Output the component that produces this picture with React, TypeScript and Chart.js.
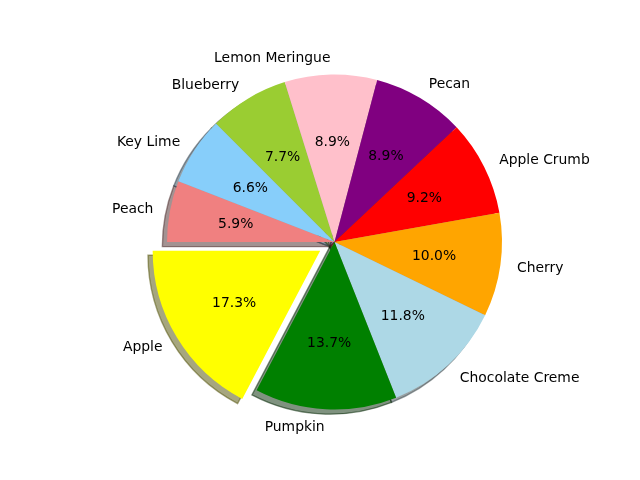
import React, { useEffect, useRef } from 'react';
import { Chart, ArcElement, registerables } from 'chart.js';

Chart.register(...registerables);

const labels = ['Peach', 'Key Lime', 'Blueberry', 'Lemon Meringue', 'Pecan', 'Apple Crumb', 'Cherry', 'Chocolate Creme', 'Pumpkin', 'Apple'];
const values = [5.9, 6.6, 7.7, 8.9, 8.9, 9.2, 10.0, 11.8, 13.7, 17.3];
const colors = ['#F08080', '#87CEFA', '#9ACD32', '#FFC0CB', '#800080', '#FF0000', '#FFA500', '#ADD8E6', '#008000', '#FFFF00'];
const explode = [0, 0, 0, 0, 0, 0, 0, 0, 0, 0.1];

const RADIUS = 167.5;
const SHADOW_DX = -4.65;
const SHADOW_DY = 4.65;
const TEXT_DY = 1;
const FONT = '13.9px "DejaVu Sans", sans-serif';

function hexToRgb(h: string): number[] {
  const n = parseInt(h.slice(1), 16);
  return [(n >> 16) & 255, (n >> 8) & 255, n & 255];
}

function arcGeom(arc: any, i: number) {
  const p = arc.getProps(['x', 'y', 'startAngle', 'endAngle', 'outerRadius'], true);
  const off = explode[i] * p.outerRadius;
  const mid = (p.startAngle + p.endAngle) / 2;
  return {
    cx: p.x + Math.cos(mid) * off,
    cy: p.y + Math.sin(mid) * off,
    r: p.outerRadius,
    start: p.startAngle,
    end: p.endAngle,
    mid,
    x0: p.x,
  };
}

const pieDecor = {
  id: 'pieDecor',
  beforeDatasetsDraw(chart: any) {
    const ctx = chart.ctx;
    const meta = chart.getDatasetMeta(0);
    // explode: shift the library's own arc drawing along its mid-angle
    meta.data.forEach((arc: any, i: number) => {
      if (explode[i] > 0) {
        arc.draw = function (c: CanvasRenderingContext2D) {
          const g = arcGeom(this, i);
          c.save();
          c.translate(g.cx - this.x, g.cy - this.y);
          ArcElement.prototype.draw.call(this, c);
          c.restore();
        };
      }
    });
    ctx.save();
    meta.data.forEach((arc: any, i: number) => {
      const g = arcGeom(arc, i);
      const [r, gg, b] = hexToRgb(colors[i]).map((v) => v * 0.3);
      const col = `rgba(${r},${gg},${b},0.5)`;
      const cx = g.cx + SHADOW_DX;
      const cy = g.cy + SHADOW_DY;
      ctx.beginPath();
      ctx.moveTo(cx, cy);
      ctx.arc(cx, cy, g.r, g.start, g.end);
      ctx.closePath();
      ctx.fillStyle = col;
      ctx.fill();
      ctx.lineWidth = 1.39;
      ctx.lineJoin = 'miter';
      ctx.strokeStyle = col;
      ctx.stroke();
    });
    ctx.restore();
  },
  afterDatasetsDraw(chart: any) {
    const ctx = chart.ctx;
    const meta = chart.getDatasetMeta(0);
    const total = values.reduce((a, b) => a + b, 0);
    ctx.save();
    ctx.font = FONT;
    ctx.fillStyle = '#000000';
    ctx.textBaseline = 'middle';
    meta.data.forEach((arc: any, i: number) => {
      const g = arcGeom(arc, i);
      const lx = g.cx + Math.cos(g.mid) * g.r * 1.1;
      const ly = g.cy + Math.sin(g.mid) * g.r * 1.1 + TEXT_DY;
      ctx.textAlign = lx - g.x0 > 0 ? 'left' : 'right';
      ctx.fillText(labels[i], lx, ly);
      const px = g.cx + Math.cos(g.mid) * g.r * 0.6;
      const py = g.cy + Math.sin(g.mid) * g.r * 0.6 + TEXT_DY;
      ctx.textAlign = 'center';
      ctx.fillText(((values[i] / total) * 100).toFixed(1) + '%', px, py);
    });
    ctx.restore();
  },
};

export default function App() {
  const ref = useRef<HTMLCanvasElement>(null);
  useEffect(() => {
    if (!ref.current) return;
    const chart = new Chart(ref.current, {
      type: 'pie',
      data: {
        labels,
        datasets: [
          {
            data: values,
            backgroundColor: colors,
            borderWidth: 0,
            clip: false as any,
          },
        ],
      },
      options: {
        responsive: false,
        animation: false,
        events: [],
        rotation: 270,
        radius: RADIUS,
        layout: { padding: { left: 29, top: 4, right: 0, bottom: 0 } },
        plugins: {
          legend: { display: false },
          tooltip: { enabled: false },
        },
      },
      plugins: [pieDecor],
    });
    return () => chart.destroy();
  }, []);
  return (
    <div style={{ position: 'fixed', left: 0, top: 0, width: 640, height: 480, background: '#fff' }}>
      <canvas ref={ref} width={640} height={480} />
    </div>
  );
}
